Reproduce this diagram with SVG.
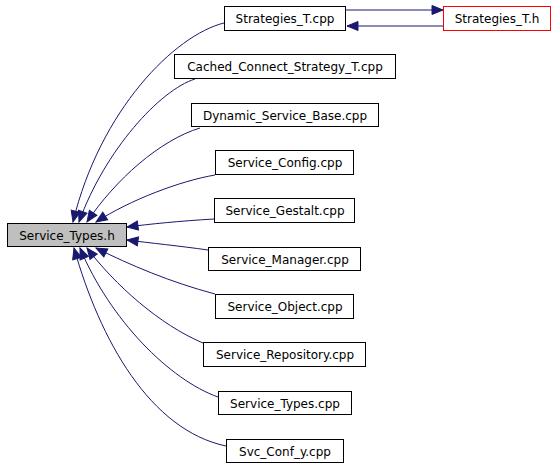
<svg xmlns="http://www.w3.org/2000/svg" width="555" height="467" viewBox="0 0 555 467">
<style>
.n rect{fill:#fff;stroke:#000;stroke-width:1}
.n text{font-family:"DejaVu Sans",sans-serif;font-size:12px;fill:#000;text-anchor:middle}
.e path{fill:none;stroke:#191970;stroke-width:1;marker-end:url(#ah)}
</style>
<defs>
<marker id="ah" markerUnits="userSpaceOnUse" markerWidth="14" markerHeight="12" refX="11" refY="4.5" orient="auto" viewBox="-1 -1 14 11">
<path d="M0,0 L11,4.5 L0,9 z" fill="#191970" stroke="#191970"/>
</marker>
</defs>
<rect width="555" height="467" fill="#fff"/>
<g class="e" id="edges">
<path d="M224,23 C175,35 100,110 73,222"/>
<path d="M195,79 C160,90 105,150 79,222"/>
<path d="M200,128 C160,140 115,180 87,222"/>
<path d="M215,175 C180,181 130,200 96,222"/>
<path d="M214,219 C180,221 150,224 127,227"/>
<path d="M208,250 C180,246 150,243 127,240"/>
<path d="M215,294 C170,282 130,265 96,248"/>
<path d="M203,343 C160,325 115,285 87,248"/>
<path d="M218,397 C170,380 110,320 80,248"/>
<path d="M226,446 C150,430 100,340 74,248"/>
<path d="M346,10 L443,10"/>
<path d="M443,26 L347,26"/>
</g>
<g class="n" id="service_types_h"><rect x="7.5" y="223.5" width="119" height="23" style="fill:#bfbfbf"/><text x="67" y="239.5">Service_Types.h</text></g>
<g class="n" id="strategies_t_cpp"><rect x="224.5" y="6.5" width="121" height="24"/><text x="285" y="23">Strategies_T.cpp</text></g>
<g class="n" id="strategies_t_h"><rect x="443.5" y="6.5" width="107" height="24" style="stroke:#ff0000"/><text x="497" y="23">Strategies_T.h</text></g>
<g class="n" id="cached"><rect x="174.5" y="54.5" width="221" height="24"/><text x="285" y="71">Cached_Connect_Strategy_T.cpp</text></g>
<g class="n" id="dynamic"><rect x="191.5" y="103.5" width="187" height="23"/><text x="285" y="119.5">Dynamic_Service_Base.cpp</text></g>
<g class="n" id="config"><rect x="215.5" y="150.5" width="138" height="24"/><text x="285" y="167">Service_Config.cpp</text></g>
<g class="n" id="gestalt"><rect x="214.5" y="198.5" width="140" height="24"/><text x="285" y="215">Service_Gestalt.cpp</text></g>
<g class="n" id="manager"><rect x="208.5" y="247.5" width="152" height="23"/><text x="285" y="263.5">Service_Manager.cpp</text></g>
<g class="n" id="object"><rect x="215.5" y="294.5" width="138" height="24"/><text x="285" y="311">Service_Object.cpp</text></g>
<g class="n" id="repository"><rect x="203.5" y="342.5" width="162" height="24"/><text x="285" y="359">Service_Repository.cpp</text></g>
<g class="n" id="types_cpp"><rect x="218.5" y="391.5" width="133" height="23"/><text x="285" y="407.5">Service_Types.cpp</text></g>
<g class="n" id="svc_conf_y"><rect x="226.5" y="439.5" width="117" height="23"/><text x="285" y="455.5">Svc_Conf_y.cpp</text></g>
</svg>
